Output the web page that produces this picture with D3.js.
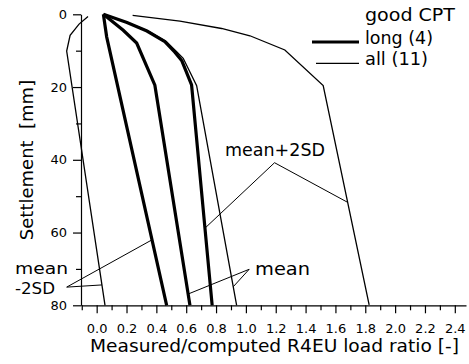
<!DOCTYPE html>
<html>
<head>
<meta charset="utf-8">
<script src="https://cdn.jsdelivr.net/npm/d3@7"></script>
<style>
  html, body { margin: 0; padding: 0; background: #fff; }
  svg { display: block; font-family: "DejaVu Sans", sans-serif; }
</style>
</head>
<body>
<svg id="chart" width="469" height="364"></svg>
<script>
// Load-settlement envelopes, each point is [load ratio, settlement in mm]
// "long (4)" piles with good CPT
const longMinus2SD = [[0.045, 0], [0.067, 6.2], [0.469, 80]];
const longMean     = [[0.045, 0], [0.178, 4.4], [0.268, 7.9], [0.39, 19.5], [0.625, 80]];
const longPlus2SD  = [[0.045, 0], [0.203, 2.25], [0.337, 4.6], [0.457, 7.5], [0.524, 10.4],
                      [0.571, 12.8], [0.636, 19.4], [0.774, 80]];
// "all (11)" piles with good CPT
const allMinus2SD  = [[-0.058, 0.6], [-0.118, 2.7], [-0.178, 5.8], [-0.201, 10.1], [0.056, 80]];
const allMean      = [[0.045, 0], [0.21, 2.3], [0.345, 4.6], [0.466, 7.5], [0.536, 10.3],
                      [0.58, 12.1], [0.67, 19.6], [0.938, 80]];
const allPlus2SD   = [[0.241, 0.3], [0.558, 1.9], [0.837, 3.9], [1.027, 5.9], [1.261, 9.8],
                      [1.518, 19.6], [1.826, 79.9]];

// Axis ticks
const xMajorTicks = [0, 0.2, 0.4, 0.6, 0.8, 1.0, 1.2, 1.4, 1.6, 1.8, 2.0, 2.2, 2.4];
const xMinorTicks = [-0.1, 0.1, 0.3, 0.5, 0.7, 0.9, 1.1, 1.3, 1.5, 1.7, 1.9, 2.1, 2.3];
const yMajorTicks = [0, 20, 40, 60, 80];
const yMinorTicks = [10, 30, 50, 70];

// Legend text
const legendTitle = "good CPT";
const legendLabels = ["long (4)", "all (11)"];

// Curves by group
const series = [
  { group: "long", data: longMinus2SD },
  { group: "long", data: longMean },
  { group: "long", data: longPlus2SD },
  { group: "all",  data: allMinus2SD },
  { group: "all",  data: allMean },
  { group: "all",  data: allPlus2SD }
];
const groupWidth = { long: 3.2, all: 1.3 };

const svg = d3.select("#chart");

const x = d3.scaleLinear().domain([-0.105, 2.475]).range([81, 466]);
const y = d3.scaleLinear().domain([0, 80]).range([14.3, 305.3]);

// ratio on a curve at a given settlement (linear between points)
function ratioAt(data, s) {
  for (let i = 1; i < data.length; i++) {
    const [r0, s0] = data[i - 1], [r1, s1] = data[i];
    if (s >= s0 && s <= s1) return r0 + (r1 - r0) * (s - s0) / (s1 - s0);
  }
  return data[data.length - 1][0];
}

// Axes
svg.append("g").attr("transform", `translate(0,${y(80)})`)
  .call(d3.axisBottom(x).tickValues(xMajorTicks).tickSize(8).tickPadding(10)
        .tickSizeOuter(0).tickFormat(d3.format(".1f")));
svg.append("g").attr("transform", `translate(0,${y(80)})`)
  .call(d3.axisBottom(x).tickValues(xMinorTicks).tickSize(5).tickFormat(""))
  .call(g => g.select(".domain").remove());

svg.append("g").attr("transform", `translate(${x(-0.105)},0)`)
  .call(d3.axisLeft(y).tickValues(yMajorTicks).tickSize(8).tickPadding(6).tickSizeOuter(0));
svg.append("g").attr("transform", `translate(${x(-0.105)},0)`)
  .call(d3.axisLeft(y).tickValues(yMinorTicks).tickSize(5).tickFormat(""))
  .call(g => g.select(".domain").remove());

svg.selectAll(".domain, .tick line").attr("stroke", "#000").attr("stroke-width", 1.2);
svg.selectAll(".tick text").attr("fill", "#000")
  .style("font-family", '"DejaVu Sans", sans-serif').style("font-size", "13px");

// Curves
const line = d3.line().x(d => x(d[0])).y(d => y(d[1]));
svg.append("g").selectAll("path").data(series).join("path")
  .attr("d", d => line(d.data))
  .attr("fill", "none")
  .attr("stroke", "#000")
  .attr("stroke-width", d => groupWidth[d.group])
  .attr("stroke-linejoin", "miter");

// Annotation leaders: apex in data units, then the curve/settlement each leg reaches
const annotations = [
  { apex: [1.192, 40.8], legs: [[longPlus2SD, 58.8], [allPlus2SD, 51.7]] },
  { apex: [1.022, 70.1], legs: [[longMean, 76.9], [allMean, 74.9]] },
  { apex: [-0.201, 75.0], legs: [[longMinus2SD, 62.0], [allMinus2SD, 74.4]] }
];
const leaders = svg.append("g").attr("fill", "none").attr("stroke", "#000").attr("stroke-width", 1);
annotations.forEach(a => {
  a.legs.forEach(([data, s]) => {
    leaders.append("line")
      .attr("x1", x(a.apex[0])).attr("y1", y(a.apex[1]))
      .attr("x2", x(ratioAt(data, s))).attr("y2", y(s));
  });
});

// Text
const txt = (t, px, py, len, size = 18) => {
  const el = svg.append("text").attr("x", px).attr("y", py)
    .attr("font-size", size).attr("fill", "#000").style("white-space", "pre").text(t);
  if (len) el.attr("textLength", len).attr("lengthAdjust", "spacingAndGlyphs");
  return el;
};
txt("mean+2SD", 225, 155.5, 100);
txt("mean", 255, 275, 55);
txt("mean", 15, 274.3, 53, 16);
txt("-2SD", 15, 293.5, 40, 16);

// Legend
txt(legendTitle, 365, 21, 90);
txt(legendLabels[0], 365, 44, 68);
txt(legendLabels[1], 365, 65, 63);
svg.append("line").attr("x1", 312).attr("x2", 359).attr("y1", 42).attr("y2", 42)
  .attr("stroke", "#000").attr("stroke-width", groupWidth.long);
svg.append("line").attr("x1", 316).attr("x2", 359).attr("y1", 63.3).attr("y2", 63.3)
  .attr("stroke", "#000").attr("stroke-width", groupWidth.all);

// Axis titles
txt("Measured/computed R4EU load ratio [-]", 90, 352, 369);
svg.append("text")
  .attr("transform", "translate(33,160) rotate(-90)")
  .attr("text-anchor", "middle").attr("font-size", 18).attr("fill", "#000")
  .style("white-space", "pre")
  .text("Settlement  [mm]");
</script>
</body>
</html>
